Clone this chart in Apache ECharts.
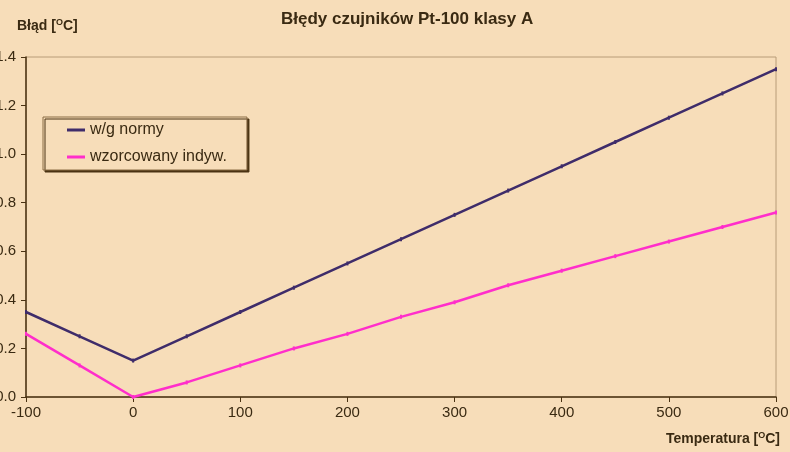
<!DOCTYPE html>
<html>
<head>
<meta charset="utf-8">
<script src="https://cdn.jsdelivr.net/npm/echarts@6/dist/echarts.min.js"></script>
<style>html,body{margin:0;padding:0;background:#F7DDB9;}#c{width:790px;height:452px;}</style>
</head>
<body>
<div id="c"></div>
<script>
var temps = [-100, -50, 0, 50, 100, 150, 200, 250, 300, 350, 400, 450, 500, 550, 600];
var normValues = [0.35, 0.25, 0.15, 0.25, 0.35, 0.45, 0.55, 0.65, 0.75, 0.85, 0.95, 1.05, 1.15, 1.25, 1.35];
var indivValues = [0.26, 0.13, 0.0, 0.06, 0.13, 0.20, 0.26, 0.33, 0.39, 0.46, 0.52, 0.58, 0.64, 0.70, 0.76];
var seriesNames = ['w/g normy', 'wzorcowany indyw.'];
var titleText = 'Błędy czujników Pt-100 klasy A';

var font = 'Liberation Sans, Arial, sans-serif';
var txt = '#3a2a12';
var axisCol = '#4a3212';

function pairs(xs, ys) { return xs.map(function (x, i) { return [x, ys[i]]; }); }

var supStyle = { fontFamily: font, fontSize: 9, fontWeight: 'bold', color: txt, verticalAlign: 'top', padding: [0, 0, 7, 0] };

var chart = echarts.init(document.getElementById('c'));
chart.setOption({
  backgroundColor: '#F7DDB9',
  animation: false,
  textStyle: { fontFamily: font },
  title: [
    { text: titleText, left: 276, top: 6,
      textStyle: { fontFamily: font, fontSize: 17, fontWeight: 'bold', color: txt } },
    { text: 'Błąd [{sup|O}C]', left: 12, top: 13,
      textStyle: { fontFamily: font, fontSize: 14, fontWeight: 'bold', color: txt, rich: { sup: supStyle } } },
    { text: 'Temperatura [{sup|O}C]', right: 5, bottom: 1,
      textStyle: { fontFamily: font, fontSize: 14, fontWeight: 'bold', color: txt, rich: { sup: supStyle } } }
  ],
  legend: {
    orient: 'vertical', left: 43, top: 117,
    padding: [5, 20, 5, 24], itemGap: 11, itemWidth: 18, itemHeight: 3,
    icon: 'rect',
    backgroundColor: '#F7DDB9', borderColor: '#8a6c44', borderWidth: 1,
    shadowColor: '#4a3212', shadowOffsetX: 2, shadowOffsetY: 2, shadowBlur: 0,
    textStyle: { fontFamily: font, fontSize: 16, color: txt },
    data: seriesNames
  },
  grid: { left: 26, right: 14, top: 57, bottom: 55, show: true, borderColor: '#b89c78', borderWidth: 1,
    backgroundColor: 'transparent', containLabel: false, outerBoundsMode: 'none' },
  xAxis: {
    type: 'value', min: -100, max: 600, interval: 100,
    axisLine: { onZero: false, lineStyle: { color: axisCol, width: 1.5 } },
    axisTick: { show: true, length: 5, lineStyle: { color: axisCol } },
    axisLabel: { fontFamily: font, fontSize: 15, color: txt, margin: 8 },
    splitLine: { show: false }
  },
  yAxis: {
    type: 'value', min: 0, max: 1.4, interval: 0.2,
    axisLine: { show: true, onZero: false, lineStyle: { color: axisCol, width: 1.5 } },
    axisTick: { show: true, length: 5, lineStyle: { color: axisCol } },
    axisLabel: { fontFamily: font, fontSize: 15, color: txt, margin: 10,
      formatter: function (v) { return v.toFixed(1); } },
    splitLine: { show: false }
  },
  series: [
    { name: seriesNames[0], type: 'line', data: pairs(temps, normValues),
      color: '#3f2c6a', lineStyle: { width: 2.5, color: '#3f2c6a' },
      symbol: 'rect', symbolSize: [2, 4], itemStyle: { color: '#3f2c6a' } },
    { name: seriesNames[1], type: 'line', data: pairs(temps, indivValues),
      color: '#ff2ecb', lineStyle: { width: 2.5, color: '#ff2ecb' },
      symbol: 'rect', symbolSize: [2, 4], itemStyle: { color: '#ff2ecb' } }
  ]
});
</script>
</body>
</html>
